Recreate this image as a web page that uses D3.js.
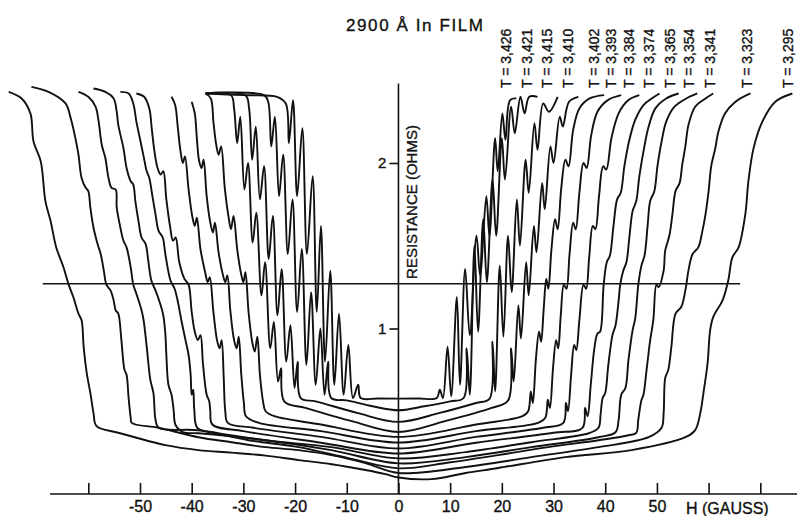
<!DOCTYPE html>
<html>
<head>
<meta charset="utf-8">
<script src="https://cdn.jsdelivr.net/npm/d3@7"></script>
<style>
  body { margin: 0; background: #fff; }
  svg { display: block; }
  text { font-family: "Liberation Sans", Arial, sans-serif; fill: #111; stroke: #111; stroke-width: 0.35px; }
</style>
</head>
<body>
<div id="chart"></div>
<script>
// resistance (ohms) against field H (gauss), one trace per temperature,
// each trace runs from high negative field through zero to high positive field
var t3426 = [[-37.3,2.42],[-30,2.41],[-23.5,2.40],[-21.8,2.36],[-21.2,2.12],[-20.4,2.38],[-19.6,1.80],[-18.6,2.21],[-17.7,1.45],[-16.6,1.92],[-15.8,1.10],[-15.0,1.62],[-14.2,0.80],[-13.2,1.35],[-12.4,0.66],[-11.5,1.09],[-10.6,0.60],[-9.7,0.90],[-8.8,0.58],[-7.8,0.66],[-7.3,0.58],[-4,0.577],[0,0.576],[4,0.577],[7.4,0.58],[8.0,0.63],[8.6,0.58],[9.5,0.89],[10.2,0.59],[11.3,1.19],[11.9,0.66],[12.9,1.36],[13.8,0.96],[15.1,1.56],[15.8,1.32],[17.0,1.80],[17.6,1.56],[18.7,2.15],[19.2,1.95],[20.1,2.30],[20.7,2.14],[21.6,2.38],[22.8,2.39]];
var t3421 = [[-37.3,2.42],[-26.0,2.41],[-25.2,2.37],[-24.6,2.10],[-23.9,2.28],[-23.1,1.80],[-22.3,2.05],[-21.4,1.45],[-20.5,1.78],[-19.6,1.10],[-18.7,1.48],[-17.8,0.78],[-16.9,1.22],[-16.0,0.66],[-15.1,1.00],[-14.3,0.60],[-13.6,0.80],[-13.0,0.58],[-10,0.566],[-5,0.53],[0,0.506],[5,0.53],[10,0.56],[12.6,0.58],[13.2,0.88],[13.8,0.60],[14.7,1.50],[15.4,0.98],[16.4,1.66],[17.1,1.28],[18.2,1.90],[18.9,1.56],[20.0,2.15],[20.6,1.90],[21.8,2.34],[22.5,2.18],[23.6,2.40],[24.4,2.30],[25.3,2.40],[26.9,2.40]];
var t3415 = [[-37.3,2.42],[-29.6,2.41],[-28.9,2.33],[-28.3,2.02],[-27.6,2.22],[-26.8,1.78],[-26.0,1.98],[-25.1,1.42],[-24.3,1.68],[-23.4,1.08],[-22.6,1.36],[-21.7,0.80],[-20.9,1.02],[-20.1,0.64],[-19.5,0.80],[-18.9,0.58],[-16,0.56],[-8,0.49],[0,0.436],[8,0.49],[15,0.55],[17.6,0.575],[18.2,0.92],[18.7,0.62],[19.6,1.38],[20.3,0.95],[21.2,1.56],[21.9,1.22],[22.9,1.78],[23.5,1.50],[24.6,2.02],[25.2,1.82],[26.3,2.24],[26.9,2.08],[28.0,2.36],[29.1,2.31],[30.8,2.40]];
var t3410 = [[-37.3,2.42],[-32.4,2.41],[-31.8,2.33],[-31.2,2.12],[-30.6,2.28],[-29.8,1.84],[-29.1,2.00],[-28.2,1.52],[-27.5,1.70],[-26.5,1.20],[-25.8,1.40],[-24.8,0.88],[-24.1,1.04],[-23.3,0.68],[-22.7,0.76],[-22.1,0.56],[-18,0.52],[-9,0.44],[0,0.375],[9,0.44],[18,0.52],[21.2,0.565],[21.8,0.88],[22.3,0.68],[23.2,1.14],[23.7,0.94],[24.7,1.40],[25.2,1.20],[26.2,1.62],[26.7,1.46],[27.8,1.88],[28.3,1.72],[29.4,2.10],[30.0,2.00],[31.2,2.28],[31.8,2.22],[33.0,2.37],[34.8,2.40]];
var t3402 = [[-37.3,2.42],[-36.3,2.39],[-35.8,2.25],[-35.3,2.12],[-34.8,2.05],[-34.3,2.10],[-33.6,1.85],[-32.9,1.68],[-32.4,1.60],[-31.9,1.68],[-31.2,1.48],[-30.5,1.34],[-30.0,1.28],[-29.6,1.34],[-29.0,1.10],[-28.3,0.92],[-27.8,0.86],[-27.3,0.95],[-26.8,0.72],[-26.2,0.56],[-25.7,0.50],[-24,0.47],[-15,0.42],[0,0.345],[15,0.42],[24,0.47],[25.1,0.50],[25.6,0.62],[26.0,0.55],[26.6,0.82],[27.2,0.98],[27.6,0.92],[28.1,1.12],[28.6,1.30],[29.0,1.24],[29.6,1.48],[30.3,1.66],[30.8,1.60],[31.5,1.85],[32.3,2.02],[32.9,1.98],[33.8,2.20],[35.0,2.33],[37.0,2.39],[39.8,2.41]];
var t3393 = [[-40.0,2.37],[-39.4,2.30],[-39.0,2.15],[-38.6,2.02],[-38.1,1.97],[-37.7,2.02],[-37.1,1.80],[-36.4,1.64],[-35.9,1.58],[-35.5,1.64],[-34.8,1.46],[-34.0,1.33],[-33.5,1.28],[-33.1,1.32],[-32.5,1.10],[-31.8,0.93],[-31.3,0.88],[-30.9,0.95],[-30.4,0.72],[-29.9,0.55],[-29.5,0.47],[-27,0.43],[-15,0.38],[0,0.311],[15,0.38],[27,0.43],[28.4,0.46],[28.9,0.57],[29.3,0.52],[29.9,0.76],[30.5,0.93],[30.9,0.88],[31.4,1.08],[32.0,1.265],[32.5,1.24],[33.1,1.45],[33.8,1.64],[34.3,1.60],[35.0,1.82],[35.8,2.00],[36.4,1.97],[37.3,2.17],[38.5,2.31],[40.5,2.38],[43.1,2.41]];
var t3384 = [[-43.9,2.40],[-43.2,2.35],[-42.7,2.22],[-42.2,2.08],[-41.7,2.00],[-41.3,2.04],[-40.6,1.84],[-39.9,1.68],[-39.4,1.62],[-39.0,1.67],[-38.3,1.48],[-37.4,1.34],[-36.9,1.28],[-36.5,1.31],[-35.8,1.10],[-35.1,0.93],[-34.6,0.88],[-34.2,0.93],[-33.8,0.70],[-33.5,0.50],[-33.0,0.43],[-28,0.40],[-15,0.345],[0,0.275],[15,0.345],[28,0.40],[31.9,0.43],[32.4,0.55],[32.8,0.50],[33.4,0.72],[34.0,0.90],[34.4,0.87],[35.0,1.05],[35.8,1.265],[36.3,1.24],[36.9,1.43],[37.6,1.62],[38.1,1.60],[38.8,1.80],[39.6,1.98],[40.2,1.96],[41.2,2.15],[42.6,2.30],[44.5,2.38],[46.6,2.41]];
var t3374 = [[-50.7,2.42],[-49.2,2.40],[-48.2,2.33],[-47.7,2.20],[-47.2,2.07],[-46.6,1.97],[-46.0,1.93],[-45.5,1.95],[-44.9,1.78],[-44.2,1.62],[-43.6,1.53],[-43.1,1.55],[-42.4,1.40],[-41.4,1.30],[-40.6,1.265],[-40.0,1.10],[-39.4,0.98],[-38.8,0.93],[-38.3,0.96],[-37.8,0.78],[-37.1,0.60],[-36.6,0.56],[-36.4,0.50],[-36.0,0.42],[-30,0.38],[-15,0.31],[0,0.245],[15,0.31],[30,0.37],[35.6,0.40],[36.1,0.52],[36.6,0.47],[37.2,0.66],[37.9,0.88],[38.5,0.97],[39.0,0.98],[39.7,1.265],[40.3,1.40],[40.9,1.44],[41.6,1.62],[42.3,1.78],[43.0,1.82],[43.7,1.98],[44.6,2.13],[45.8,2.26],[47.4,2.35],[49.0,2.39],[50.5,2.42]];
var t3365 = [[-53.8,2.43],[-52.2,2.42],[-51.3,2.36],[-50.7,2.25],[-50.1,2.16],[-49.3,2.04],[-48.7,1.95],[-48.2,1.91],[-47.6,1.80],[-47.0,1.69],[-46.4,1.59],[-45.6,1.55],[-45.1,1.45],[-44.1,1.29],[-43.3,1.24],[-42.6,1.15],[-42.0,1.05],[-41.2,0.93],[-40.6,0.84],[-40.2,0.72],[-40.0,0.60],[-39.7,0.63],[-39.5,0.51],[-38.9,0.40],[-35.8,0.373],[-25.7,0.325],[-13,0.283],[0,0.215],[13,0.253],[25.7,0.313],[36.8,0.367],[38.7,0.40],[39.1,0.48],[39.5,0.58],[40.0,0.61],[40.6,0.78],[41.4,0.96],[42.0,1.02],[42.6,1.17],[42.9,1.265],[43.5,1.35],[44.1,1.40],[44.7,1.56],[45.3,1.71],[46.0,1.77],[46.6,1.92],[47.4,2.07],[48.4,2.22],[49.7,2.33],[51.8,2.39],[54.2,2.42]];
var t3354 = [[-59.0,2.45],[-56.7,2.43],[-55.1,2.39],[-54.5,2.31],[-54.2,2.23],[-53.2,2.09],[-52.6,1.97],[-51.8,1.89],[-51.3,1.87],[-50.9,1.77],[-50.3,1.65],[-49.7,1.55],[-48.9,1.51],[-48.4,1.41],[-47.8,1.29],[-47.0,1.23],[-46.0,1.14],[-45.5,1.08],[-45.1,0.97],[-44.9,0.84],[-44.5,0.66],[-43.9,0.60],[-43.5,0.51],[-43.1,0.415],[-41.6,0.373],[-38.7,0.367],[-25.7,0.325],[-13,0.265],[0,0.185],[13,0.223],[25.7,0.283],[38.7,0.343],[42.0,0.373],[42.6,0.45],[43.1,0.60],[43.9,0.64],[44.5,0.81],[45.3,0.99],[45.8,1.06],[46.4,1.265],[47.0,1.38],[47.6,1.44],[48.2,1.62],[48.7,1.77],[49.5,1.83],[50.1,1.98],[50.9,2.13],[51.8,2.25],[53.4,2.34],[55.7,2.39],[57.8,2.42]];
var t3341 = [[-61.9,2.43],[-60.0,2.40],[-58.6,2.34],[-58.0,2.25],[-57.4,2.11],[-56.7,2.03],[-56.1,1.91],[-55.5,1.85],[-54.7,1.84],[-54.5,1.73],[-53.8,1.61],[-53.2,1.53],[-52.6,1.49],[-51.8,1.37],[-51.3,1.265],[-50.7,1.21],[-49.7,1.11],[-49.3,1.05],[-48.7,0.89],[-48.0,0.69],[-47.4,0.61],[-47.0,0.45],[-46.4,0.40],[-38.7,0.385],[-29,0.325],[-19.3,0.283],[-9.7,0.217],[0,0.155],[9.7,0.19],[19.3,0.235],[29,0.283],[38.7,0.325],[44.5,0.355],[46.0,0.37],[46.4,0.45],[47.0,0.566],[47.4,0.60],[48.0,0.75],[48.7,0.93],[49.3,1.05],[49.9,1.265],[50.3,1.25],[51.3,1.35],[51.6,1.47],[52.4,1.56],[53.0,1.69],[53.6,1.83],[54.4,1.88],[54.9,1.99],[55.5,2.10],[56.1,2.23],[57.4,2.34],[59.4,2.39],[60.9,2.42]];
var t3323 = [[-71.0,2.46],[-67.7,2.43],[-64.4,2.36],[-63.4,2.27],[-62.5,2.15],[-61.9,2.05],[-61.3,1.91],[-60.5,1.85],[-60.0,1.83],[-59.6,1.73],[-59.0,1.61],[-58.2,1.51],[-57.6,1.45],[-57.0,1.35],[-56.5,1.265],[-55.7,1.23],[-55.1,1.17],[-54.7,1.11],[-54.2,1.09],[-53.6,0.93],[-53.0,0.75],[-52.6,0.72],[-52.2,0.58],[-51.8,0.46],[-51.6,0.43],[-46.4,0.40],[-38.7,0.343],[-32.3,0.313],[-25.7,0.283],[-19.3,0.265],[-13.0,0.235],[-6.4,0.187],[0,0.127],[13,0.163],[25.7,0.223],[38.7,0.283],[48.4,0.343],[50.9,0.40],[51.3,0.49],[51.6,0.70],[52.2,0.75],[52.8,0.89],[53.6,1.09],[54.7,1.13],[55.5,1.23],[56.1,1.35],[56.9,1.45],[58.0,1.49],[58.8,1.59],[59.4,1.69],[60.0,1.83],[60.5,1.98],[61.3,2.09],[61.9,2.19],[63.2,2.30],[65.2,2.37],[68.1,2.42]];
var t3295 = [[-75.4,2.43],[-72.9,2.39],[-71.2,2.30],[-70.6,2.13],[-69.2,2.01],[-68.3,1.77],[-67.3,1.65],[-66.2,1.49],[-64.8,1.37],[-63.8,1.265],[-62.9,1.19],[-61.9,1.09],[-61.3,1.05],[-60.9,0.89],[-60.3,0.73],[-59.6,0.61],[-59.0,0.49],[-58.4,0.41],[-54.2,0.37],[-48.9,0.325],[-45.1,0.295],[-38.7,0.265],[-32.3,0.25],[-25.7,0.232],[-19.3,0.205],[-12.9,0.18],[-6.4,0.145],[-2.5,0.12],[0,0.100],[6.4,0.09],[13.0,0.127],[19.3,0.157],[32.3,0.223],[45.1,0.265],[55.5,0.343],[57.4,0.386],[58.4,0.49],[59.0,0.61],[59.8,0.79],[60.3,0.99],[60.9,1.07],[62.7,1.17],[63.8,1.29],[64.6,1.43],[65.8,1.49],[67.1,1.69],[67.7,1.89],[68.7,2.09],[70.4,2.25],[72.9,2.37],[76.2,2.42]];

var traces = [t3426, t3421, t3415, t3410, t3402, t3393, t3384, t3374, t3365, t3354, t3341, t3323, t3295];
var tempLabels = ['3,426', '3,421', '3,415', '3,410', '3,402', '3,393', '3,384', '3,374', '3,365', '3,354', '3,341', '3,323', '3,295'];
var labelField = [20.8, 24.9, 28.7, 32.8, 37.8, 41.1, 44.6, 48.4, 52.5, 56.2, 60.2, 67.4, 75.3];

var fieldTicks = [-60, -50, -40, -30, -20, -10, 0, 10, 20, 30, 40, 50, 60, 70];
var resTicks = [1, 2];
var halfLevel = 1.27;

var width = 797, height = 516;

var svg = d3.select('#chart').append('svg')
  .attr('width', width)
  .attr('height', height);

var x = d3.scaleLinear().domain([-60, 70]).range([88.3, 760.3]);
var y = d3.scaleLinear().domain([0, 2]).range([494, 163]);

var line = d3.line()
  .x(function (d) { return x(d[0]); })
  .y(function (d) { return y(d[1]); })
  .curve(d3.curveCatmullRom.alpha(0.5));

// axis lines
svg.append('line')
  .attr('x1', x(-67.4)).attr('x2', width)
  .attr('y1', y(0)).attr('y2', y(0))
  .style('stroke', '#111').style('stroke-width', 1.6);

svg.append('line')
  .attr('x1', x(0)).attr('x2', x(0))
  .attr('y1', y(0)).attr('y2', y(2.48))
  .style('stroke', '#111').style('stroke-width', 1.6);

// horizontal reference level
svg.append('line')
  .attr('x1', x(-68.8)).attr('x2', x(66.1))
  .attr('y1', y(halfLevel)).attr('y2', y(halfLevel))
  .style('stroke', '#111').style('stroke-width', 1.4);

var xAxis = d3.axisBottom(x)
  .tickValues(fieldTicks)
  .tickSizeInner(-11)
  .tickSizeOuter(0)
  .tickPadding(7)
  .tickFormat(function (d) {
    if (d < -50 || d > 50) return '';
    return d < 0 ? '-' + (-d) : String(d);
  });

svg.append('g')
  .attr('transform', 'translate(0,' + y(0) + ')')
  .call(xAxis)
  .call(function (g) { g.select('.domain').remove(); })
  .call(function (g) {
    g.selectAll('line').style('stroke', '#111').style('stroke-width', 1.6);
    g.selectAll('text')
      .style('font-size', '16px')
      .style('font-family', '"Liberation Sans", Arial, sans-serif')
      .style('fill', '#111');
  });

var yAxis = d3.axisLeft(y)
  .tickValues(resTicks)
  .tickSize(9)
  .tickPadding(3)
  .tickFormat(d3.format('d'));

svg.append('g')
  .attr('transform', 'translate(' + x(0) + ',0)')
  .call(yAxis)
  .call(function (g) { g.select('.domain').remove(); })
  .call(function (g) {
    g.selectAll('line').style('stroke', '#111').style('stroke-width', 1.6);
    g.selectAll('text')
      .style('font-size', '15px')
      .style('font-family', '"Liberation Sans", Arial, sans-serif')
      .style('fill', '#111');
  });

svg.append('text')
  .attr('x', 686).attr('y', 514)
  .style('font-size', '16px')
  .text('H (GAUSS)');

svg.append('text')
  .attr('transform', 'translate(' + (x(0) + 13) + ',' + 202 + ') rotate(-90)')
  .attr('text-anchor', 'middle')
  .attr('dy', '0.35em')
  .style('font-size', '15px')
  .text('RESISTANCE (OHMS)');

svg.append('text')
  .attr('x', 346).attr('y', 31)
  .attr('textLength', 137)
  .style('font-size', '17px')
  .text('2900 Å In FILM');

// the traces
svg.selectAll('.trace')
  .data(traces)
  .enter()
  .append('path')
  .attr('class', 'trace')
  .style('fill', 'none')
  .style('stroke', '#111')
  .style('stroke-width', 1.9)
  .style('stroke-linejoin', 'round')
  .attr('d', line);

// temperature labels, standing upright above each trace end
svg.selectAll('.tlabel')
  .data(tempLabels)
  .enter()
  .append('text')
  .attr('class', 'tlabel')
  .attr('transform', function (d, i) {
    return 'translate(' + x(labelField[i]) + ',88) rotate(-90)';
  })
  .attr('dy', '0.35em')
  .style('font-size', '14px')
  .text(function (d) { return 'T = ' + d; });
</script>
</body>
</html>
